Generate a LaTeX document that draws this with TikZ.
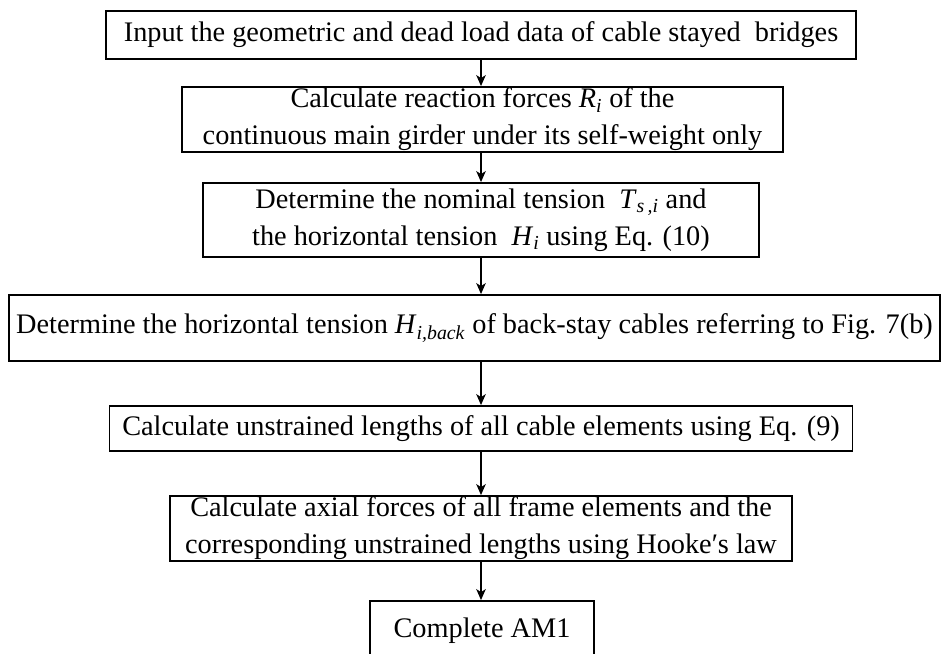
\documentclass[tikz,border=0pt]{standalone}
\usepackage{fontspec}
\setmainfont{Liberation Serif}
\usetikzlibrary{arrows.meta}
\newcommand{\vsym}[2]{\textit{#1}\textsubscript{\textit{#2}}}
\begin{document}
\begin{tikzpicture}[x=1pt,y=-1pt,
  box/.style={draw, line width=1.8pt, inner sep=0pt, align=center,
    font=\fontsize{28.3}{37}\selectfont},
  arr/.style={line width=1.4pt, -{Stealth[length=11pt,width=9.5pt,inset=3pt]}}]
\useasboundingbox (0,0) rectangle (941,653);
\clip (0,0) rectangle (941,653);
\node[box, minimum width=750pt, minimum height=48pt] (b1) at (481,35)
  {Input the geometric and dead load data of cable stayed\ \ bridges};
\node[box, minimum width=601pt, minimum height=65pt] (b2) at (482.5,119.5)
  {Calculate reaction forces \vsym{R}{i} of the\\continuous main girder under its self-weight only};
\node[box, minimum width=556pt, minimum height=74pt] (b3) at (481,220)
  {Determine the nominal tension \ \vsym{T}{s\,,i} and\\the horizontal tension \ \vsym{H}{i} using Eq. (10)};
\node[box, minimum width=931pt, minimum height=66pt] (b4) at (474.5,328)
  {Determine the horizontal tension \vsym{H}{i,back} of back-stay cables referring to Fig. 7(b)};
\node[box, minimum width=743pt, minimum height=45pt] (b5) at (481,428.5)
  {Calculate unstrained lengths of all cable elements using Eq. (9)};
\node[box, minimum width=622pt, minimum height=65pt] (b6) at (481,528.5)
  {Calculate axial forces of all frame elements and the\\corresponding unstrained lengths using Hooke′s law};
\node[box, minimum width=224pt, minimum height=60pt] (b7) at (482,631)
  {Complete AM1};
\draw[arr] (b1.south) -- (b1.south |- b2.north);
\draw[arr] (b1.south |- b2.south) -- (b1.south |- b3.north);
\draw[arr] (b3.south) -- (b3.south |- b4.north);
\draw[arr] (b3.south |- b4.south) -- (b3.south |- b5.north);
\draw[arr] (b5.south) -- (b6.north);
\draw[arr] (b6.south) -- (b6.south |- b7.north);
\end{tikzpicture}
\end{document}
